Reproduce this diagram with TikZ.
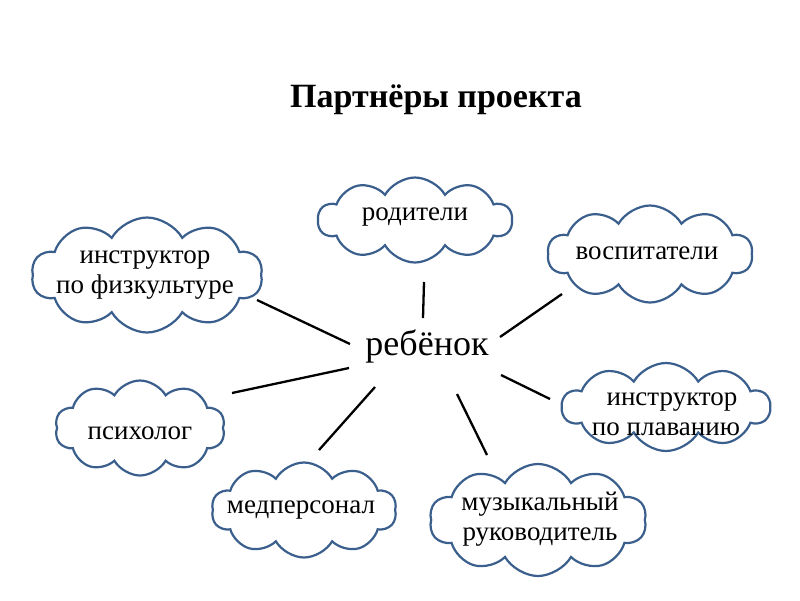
\documentclass[tikz,border=0pt]{standalone}
\usepackage{fontspec}
\setmainfont{Liberation Serif}
\usetikzlibrary{shapes.symbols}
\definecolor{cloudline}{HTML}{3A5F8C}
\tikzset{
  cloudbox/.style={cloud, cloud puffs=10, cloud puff arc=120, cloud ignores aspect,
    draw=cloudline, line width=2.2pt, fill=white, inner sep=0pt},
  lbl/.style={font=\fontsize{27}{30}\selectfont, align=center, inner sep=0pt},
  link/.style={draw=black, line width=2.3pt},
}
\begin{document}
\begin{tikzpicture}[x=1pt,y=-1pt]
\useasboundingbox (0,0) rectangle (800,600);
\node[font=\bfseries\fontsize{34}{40}\selectfont] (title) at (436,100) {Партнёры проекта};

\node[cloudbox, minimum width=194pt, minimum height=85pt] (par) at (415,220) {};
\node[lbl] (tpar) at (415,217) {родители};

\node[cloudbox, minimum width=231pt, minimum height=115pt] (fiz) at (147,275) {};
\node[lbl] (tfiz) at (145,275) {инструктор\\по физкультуре};

\node[cloudbox, minimum width=205pt, minimum height=97pt] (vos) at (650,254) {};
\node[lbl] (tvos) at (647,253) {воспитатели};

\node[cloudbox, minimum width=170pt, minimum height=95pt] (psy) at (140,428) {};
\node[lbl] (tpsy) at (140,433) {психолог};

\node[cloudbox, minimum width=208pt, minimum height=88pt] (pla) at (666,407) {};
\node[lbl] (tpla) at (666,414) {\hspace*{12pt}инструктор\\по плаванию};

\node[cloudbox, minimum width=185pt, minimum height=95pt] (med) at (304,510) {};
\node[lbl] (tmed) at (301,510) {медперсонал};

\node[cloudbox, minimum width=217pt, minimum height=112pt] (muz) at (538,520) {};
\node[lbl] (tmuz) at (540,519) {музыкальный\\руководитель};

\node[font=\fontsize{36}{40}\selectfont] (child) at (427,346) {ребёнок};

\coordinate (a1) at (257,300); \coordinate (b1) at (350,344);
\coordinate (a2) at (424,282); \coordinate (b2) at (423,318);
\coordinate (a3) at (562,294); \coordinate (b3) at (500,337);
\coordinate (a4) at (349,368); \coordinate (b4) at (232,393);
\coordinate (a5) at (501,375); \coordinate (b5) at (550,399);
\coordinate (a6) at (375,387); \coordinate (b6) at (319,450);
\coordinate (a7) at (457,394); \coordinate (b7) at (487,455);
\draw[link] (a1) -- (b1);
\draw[link] (a2) -- (b2);
\draw[link] (a3) -- (b3);
\draw[link] (a4) -- (b4);
\draw[link] (a5) -- (b5);
\draw[link] (a6) -- (b6);
\draw[link] (a7) -- (b7);
\end{tikzpicture}
\end{document}
